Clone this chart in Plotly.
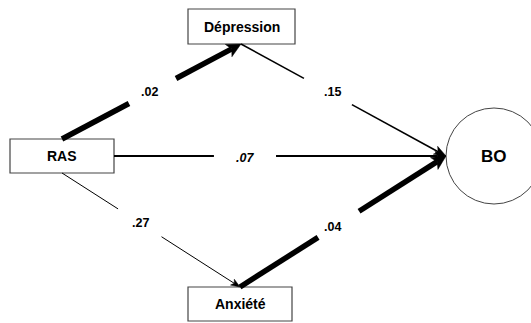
import math
import plotly.graph_objects as go

# ---- data ----
nodes = ["RAS", "Dépression", "Anxiété", "BO"]
edge_from = ["RAS", "Dépression", "RAS", "RAS", "Anxiété"]
edge_to = ["Dépression", "BO", "BO", "Anxiété", "BO"]
coefs = [".02", ".15", ".07", ".27", ".04"]

# ---- layout (pixel coordinates of the diagram) ----
W, H = 531, 323
boxes = {  # x0, y0, x1, y1
    "RAS": (10, 139, 114, 173),
    "Dépression": (188, 9, 295, 44),
    "Anxiété": (188, 287, 292, 321),
}
circle = {"BO": (494, 156, 48)}  # cx, cy, r

anchors = {  # start/end points of each edge
    ("RAS", "Dépression"): ((62, 139), (241, 44)),
    ("Dépression", "BO"): ((241, 44), (446, 156)),
    ("RAS", "BO"): ((114, 156), (446, 156)),
    ("RAS", "Anxiété"): ((62, 173), (240, 287)),
    ("Anxiété", "BO"): ((240, 287), (446, 156)),
}
edge_style = {  # width, gap t0, gap t1, label t, head length, head half width
    ("RAS", "Dépression"): (5.5, 0.374, 0.637, 0.49, 14, 7),
    ("Dépression", "BO"): (1.6, 0.307, 0.541, 0.444, 12, 4.5),
    ("RAS", "BO"): (1.8, 0.301, 0.488, 0.395, 11, 4.5),
    ("RAS", "Anxiété"): (1.0, 0.315, 0.559, 0.441, 9, 3.5),
    ("Anxiété", "BO"): (5.5, 0.379, 0.578, 0.451, 14, 7),
}
italic_edges = {("RAS", "BO")}
label_dy = {("RAS", "Dépression"): 0, ("Dépression", "BO"): -2, ("RAS", "BO"): 2,
            ("RAS", "Anxiété"): 0, ("Anxiété", "BO"): -1}

fig = go.Figure()
shapes = []
annotations = []

for name in nodes:
    if name in boxes:
        x0, y0, x1, y1 = boxes[name]
        shapes.append(dict(type="rect", x0=x0, y0=y0, x1=x1, y1=y1,
                           line=dict(color="#444444", width=1.2), fillcolor="white"))
        annotations.append(dict(x=(x0 + x1) / 2, y=(y0 + y1) / 2, text="<b>%s</b>" % name,
                                showarrow=False, font=dict(family="Liberation Sans", size=14, color="black")))
    else:
        cx, cy, r = circle[name]
        shapes.append(dict(type="circle", x0=cx - r, y0=cy - r, x1=cx + r, y1=cy + r,
                           line=dict(color="#444444", width=1), fillcolor="white"))
        annotations.append(dict(x=cx, y=cy, text="<b>%s</b>" % name, showarrow=False,
                                font=dict(family="Liberation Sans", size=17, color="black")))

for src, dst, c in zip(edge_from, edge_to, coefs):
    key = (src, dst)
    (xa, ya), (xb, yb) = anchors[key]
    w, g0, g1, lt, hl, hw = edge_style[key]
    dx, dy = xb - xa, yb - ya
    L = math.hypot(dx, dy)
    ux, uy = dx / L, dy / L
    bx, by = xb - ux * hl, yb - uy * hl
    p = lambda t: (xa + dx * t, ya + dy * t)
    ga, gb = p(g0), p(g1)
    shapes.append(dict(type="line", x0=xa, y0=ya, x1=ga[0], y1=ga[1],
                       line=dict(color="black", width=w)))
    mx, my = bx + ux * hl * 0.25, by + uy * hl * 0.25
    shapes.append(dict(type="line", x0=gb[0], y0=gb[1], x1=mx, y1=my,
                       line=dict(color="black", width=w)))
    nx, ny = -uy, ux
    path = "M %.2f %.2f L %.2f %.2f L %.2f %.2f L %.2f %.2f Z" % (
        xb, yb, bx + nx * hw, by + ny * hw, mx, my, bx - nx * hw, by - ny * hw)
    shapes.append(dict(type="path", path=path, fillcolor="black", line=dict(color="black", width=0.5)))
    lx, ly = p(lt)
    txt = "<b><i>%s</i></b>" % c if key in italic_edges else "<b>%s</b>" % c
    annotations.append(dict(x=lx, y=ly + label_dy[key], text=txt, showarrow=False,
                            font=dict(family="Liberation Sans", size=12.5, color="black")))

fig.update_layout(
    width=W, height=H,
    margin=dict(l=0, r=0, t=0, b=0),
    paper_bgcolor="white", plot_bgcolor="white",
    xaxis=dict(range=[0, W], visible=False, fixedrange=True),
    yaxis=dict(range=[H, 0], visible=False, fixedrange=True),
    shapes=shapes, annotations=annotations, showlegend=False,
)
fig.write_html("out.html", config={"displayModeBar": False},
               post_script="document.body.style.margin='0';document.body.style.padding='0';")
